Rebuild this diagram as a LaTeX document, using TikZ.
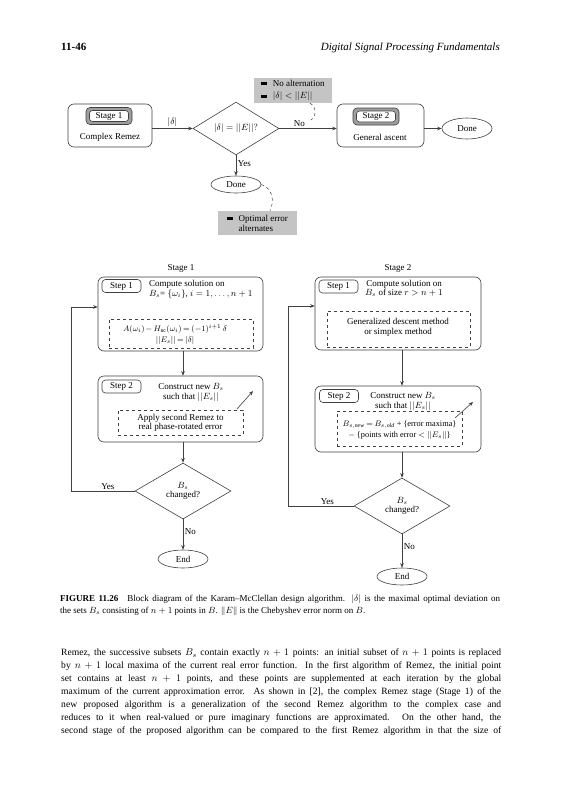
\documentclass[tikz,border=0pt]{standalone}
\usepackage{fontspec}
\setmainfont{Liberation Serif}
\usetikzlibrary{shapes.geometric,arrows.meta}
\newcommand\sqbul{\rule[0.8pt]{5.5pt}{3pt}}
\newcommand\tightm{\thickmuskip=3.5mu\relax\medmuskip=2.5mu\relax}
\begin{document}
\begin{tikzpicture}[x=1pt,y=-1pt,
  font=\fontsize{9}{9.6}\selectfont,
  ln/.style={draw=black!75, line width=0.6pt},
  arr/.style={ln, -{Stealth[length=4.5pt,width=3.6pt]}},
  bigbox/.style={ln, rounded corners=6pt, inner sep=0pt},
  steptag/.style={ln, rounded corners=3.5pt, inner sep=0pt, minimum width=39pt, minimum height=13pt, fill=white},
  stagetag/.style={ln, rounded corners=4pt, fill=black!38, inner sep=0pt, minimum width=46pt, minimum height=17pt},
  stagein/.style={ln, rounded corners=3pt, fill=white, inner sep=0pt, minimum width=39pt, minimum height=11pt},
  dashbox/.style={draw=black!75, line width=0.5pt, dashed, inner sep=0pt},
  dia/.style={ln, diamond, inner sep=0pt, align=center},
  oval/.style={ln, ellipse, inner sep=0pt, minimum width=50pt},
  graybox/.style={fill=black!23, inner sep=0pt, align=left},
  lbl/.style={inner sep=1.5pt},
  smallmath/.style={font=\fontsize{8.3}{11}\selectfont},
  bodyline/.style={anchor=base west, inner sep=0pt, font=\fontsize{9.6}{13}\selectfont},
  capline/.style={anchor=base west, inner sep=0pt, font=\fontsize{9}{11.5}\selectfont},
]
\useasboundingbox (0,0) rectangle (560,800);
\fill[white] (0,0) rectangle (560,800);

% ---------- page header ----------
\node[anchor=base west, inner sep=0pt, font=\fontsize{11}{13}\selectfont\bfseries] (pnum) at (61,50.5) {11-46};
\node[anchor=base east, inner sep=0pt, font=\fontsize{11}{13}\selectfont\itshape] (ptitle) at (500,50.5) {Digital Signal Processing Fundamentals};

% ---------- upper diagram ----------
\node[bigbox, minimum width=84pt, minimum height=43pt] (st1) at (110,125.5) {};
\node[stagetag] (st1tag) at (109,116) {};
\node[stagein] (st1in) at (109,116) {Stage 1};
\node (st1txt) at (110,137.5) {Complex Remez};

\node[dia, minimum width=86pt, minimum height=49pt] (d1) at (236,128.5) {$|\delta| = ||E||?$};

\node[bigbox, minimum width=87pt, minimum height=43pt] (st2) at (380.5,125.5) {};
\node[stagetag] (st2tag) at (376,116.5) {};
\node[stagein] (st2in) at (376,116.5) {Stage 2};
\node (st2txt) at (380,137.5) {General ascent};

\node[oval, minimum height=21pt] (done2) at (467,128.5) {Done};
\node[oval, minimum height=17pt] (done1) at (236,184.5) {Done};

\node[graybox, minimum width=78pt, minimum height=25pt, font=\fontsize{9}{12.5}\selectfont] (gb2) at (293,90.5)
  {\sqbul\hspace{6pt}No alternation\\\sqbul\hspace{6pt}$|\delta| < ||E||$};
\node[graybox, minimum width=79pt, minimum height=24pt, font=\fontsize{9}{10}\selectfont] (gb1) at (257.5,223)
  {\sqbul\hspace{6pt}Optimal error\\\hspace*{11.5pt}alternates};

\draw[arr] (st1.east |- d1.west) -- (d1.west) node[midway, above, lbl] {$|\delta|$};
\draw[arr] (d1.east) -- (st2.west |- d1.east) node[pos=0.35, above, lbl] {No};
\draw[arr] (st2.east |- done2.west) -- (done2.west);
\draw[arr] (d1.south) -- (done1.north) node[pos=0.4, right, lbl] {Yes};

\coordinate (nocurve) at (311,120);
\draw[ln, dashed, line width=0.5pt] ([xshift=17pt]gb2.south) .. controls (317,107) and (317,116) .. (nocurve);
\draw[ln, dashed, line width=0.5pt] (done1.east) .. controls (272,188) and (275,200) .. ([xshift=12.5pt]gb1.north);

% ---------- lower diagram: Stage 1 ----------
\node (lab1) at (181,268) {Stage 1};
\node[bigbox, minimum width=165pt, minimum height=74pt] (s1a) at (180.5,314) {};
\node[steptag] (s1atag) at (121.5,286) {Step 1};
\node[align=left, anchor=west, inner sep=0pt] (s1atxt) at (149,289.5) {Compute solution on\\$B_s$= $\{\omega_i\}$, $i = 1, \ldots, n+1$};
\node[dashbox, minimum width=144pt, minimum height=29pt] (s1ad) at (181,333.5) {};
\node[align=center, smallmath] (s1adtxt) at (175,334.5) {\tightm$A(\omega_i) - H_{\mathrm{nc}}(\omega_i) = (-1)^{i+1}\,\delta$\\\tightm$||E_s|| = |\delta|$};

\node[bigbox, minimum width=165pt, minimum height=66pt] (s1b) at (180.5,409) {};
\node[steptag] (s1btag) at (121.5,386.5) {Step 2};
\node[align=center] (s1btxt) at (191,392.5) {Construct new $B_s$\\such that $||E_s||$};
\node[dashbox, minimum width=125pt, minimum height=25pt] (s1bd) at (180.5,422.5) {};
\node[align=center] (s1bdtxt) at (180.5,423) {Apply second Remez to\\real phase-rotated error};
\coordinate (a1s) at (237,409);
\coordinate (a1e) at (253,391);
\draw[arr] (a1s) -- (a1e);

\node[dia, minimum width=96pt, minimum height=56pt] (dd1) at (183,491) {$B_s$\\changed?};
\node[oval, minimum height=18pt] (end1) at (183,559) {End};
\coordinate (fb1) at (71,307);

\draw[arr] (s1a.south -| dd1) -- (s1b.north -| dd1);
\draw[arr] (s1b.south -| dd1) -- (dd1.north);
\draw[arr] (dd1.west) -| node[pos=0.21, above, lbl] {Yes} (fb1) -- (s1a.west |- fb1);
\draw[arr] (dd1.south) -- (end1.north) node[pos=0.4, right, lbl] {No};

% ---------- lower diagram: Stage 2 ----------
\node (lab2) at (398,268) {Stage 2};
\node[bigbox, minimum width=166pt, minimum height=73pt] (s2a) at (398,313.5) {};
\node[steptag] (s2atag) at (338.5,286.5) {Step 1};
\node[align=center] (s2atxt) at (404,288.5) {Compute solution on\\$B_s$ of size $r > n+1$};
\node[dashbox, minimum width=143pt, minimum height=36pt] (s2ad) at (398.5,329) {};
\node[align=center] (s2adtxt) at (398,327.5) {Generalized descent method\\or simplex method};

\node[bigbox, minimum width=166pt, minimum height=66pt] (s2b) at (398,419) {};
\node[steptag] (s2btag) at (339,396) {Step 2};
\node[align=center] (s2btxt) at (403,401.5) {Construct new $B_s$\\such that $||E_s||$};
\node[dashbox, minimum width=125pt, minimum height=35pt] (s2bd) at (399.5,428.5) {};
\node[align=center, smallmath] (s2bdtxt) at (399.5,430) {\tightm$B_{s,\mathit{new}} = B_{s,\mathit{old}}$ + \{error maxima\}\\\tightm$-$ \{points with error $<$ $||E_s||$\}};
\coordinate (a2s) at (455,418);
\coordinate (a2e) at (473,402);
\draw[arr] (a2s) -- (a2e);

\node[dia, minimum width=96pt, minimum height=56pt] (dd2) at (402,506) {$B_s$\\changed?};
\node[oval, minimum height=17pt] (end2) at (402,576.5) {End};
\coordinate (fb2) at (288,306);

\draw[arr] (s2a.south -| dd2) -- (s2b.north -| dd2);
\draw[arr] (s2b.south -| dd2) -- (dd2.north);
\draw[arr] (dd2.west) -| node[pos=0.2, above, lbl] {Yes} (fb2) -- (s2a.west |- fb2);
\draw[arr] (dd2.south) -- (end2.north) node[pos=0.38, right, lbl] {No};

% ---------- caption ----------
\node[capline] (cap1) at (60,601.5) {\makebox[440pt][s]{\textbf{FIGURE 11.26}\quad Block diagram of the Karam–McClellan design algorithm. $|\delta|$ is the maximal optimal deviation on}};
\node[capline] (cap2) at (60,613) {the sets $B_s$ consisting of $n+1$ points in $B$. $\|E\|$ is the Chebyshev error norm on $B$.};

% ---------- body text ----------
\node[bodyline] (t1) at (61,655.7) {\makebox[440pt][s]{Remez, the successive subsets $B_s$ contain exactly $n+1$ points: an initial subset of $n+1$ points is replaced}};
\node[bodyline] (t2) at (61,668.7) {\makebox[440pt][s]{by $n+1$ local maxima of the current real error function. In the first algorithm of Remez, the initial point}};
\node[bodyline] (t3) at (61,681.7) {\makebox[440pt][s]{set contains at least $n+1$ points, and these points are supplemented at each iteration by the global}};
\node[bodyline] (t4) at (61,694.7) {\makebox[440pt][s]{maximum of the current approximation error. As shown in [2], the complex Remez stage (Stage 1) of the}};
\node[bodyline] (t5) at (61,707.7) {\makebox[440pt][s]{new proposed algorithm is a generalization of the second Remez algorithm to the complex case and}};
\node[bodyline] (t6) at (61,720.7) {\makebox[440pt][s]{reduces to it when real-valued or pure imaginary functions are approximated. On the other hand, the}};
\node[bodyline] (t7) at (61,733.7) {\makebox[440pt][s]{second stage of the proposed algorithm can be compared to the first Remez algorithm in that the size of}};
\end{tikzpicture}
\end{document}
